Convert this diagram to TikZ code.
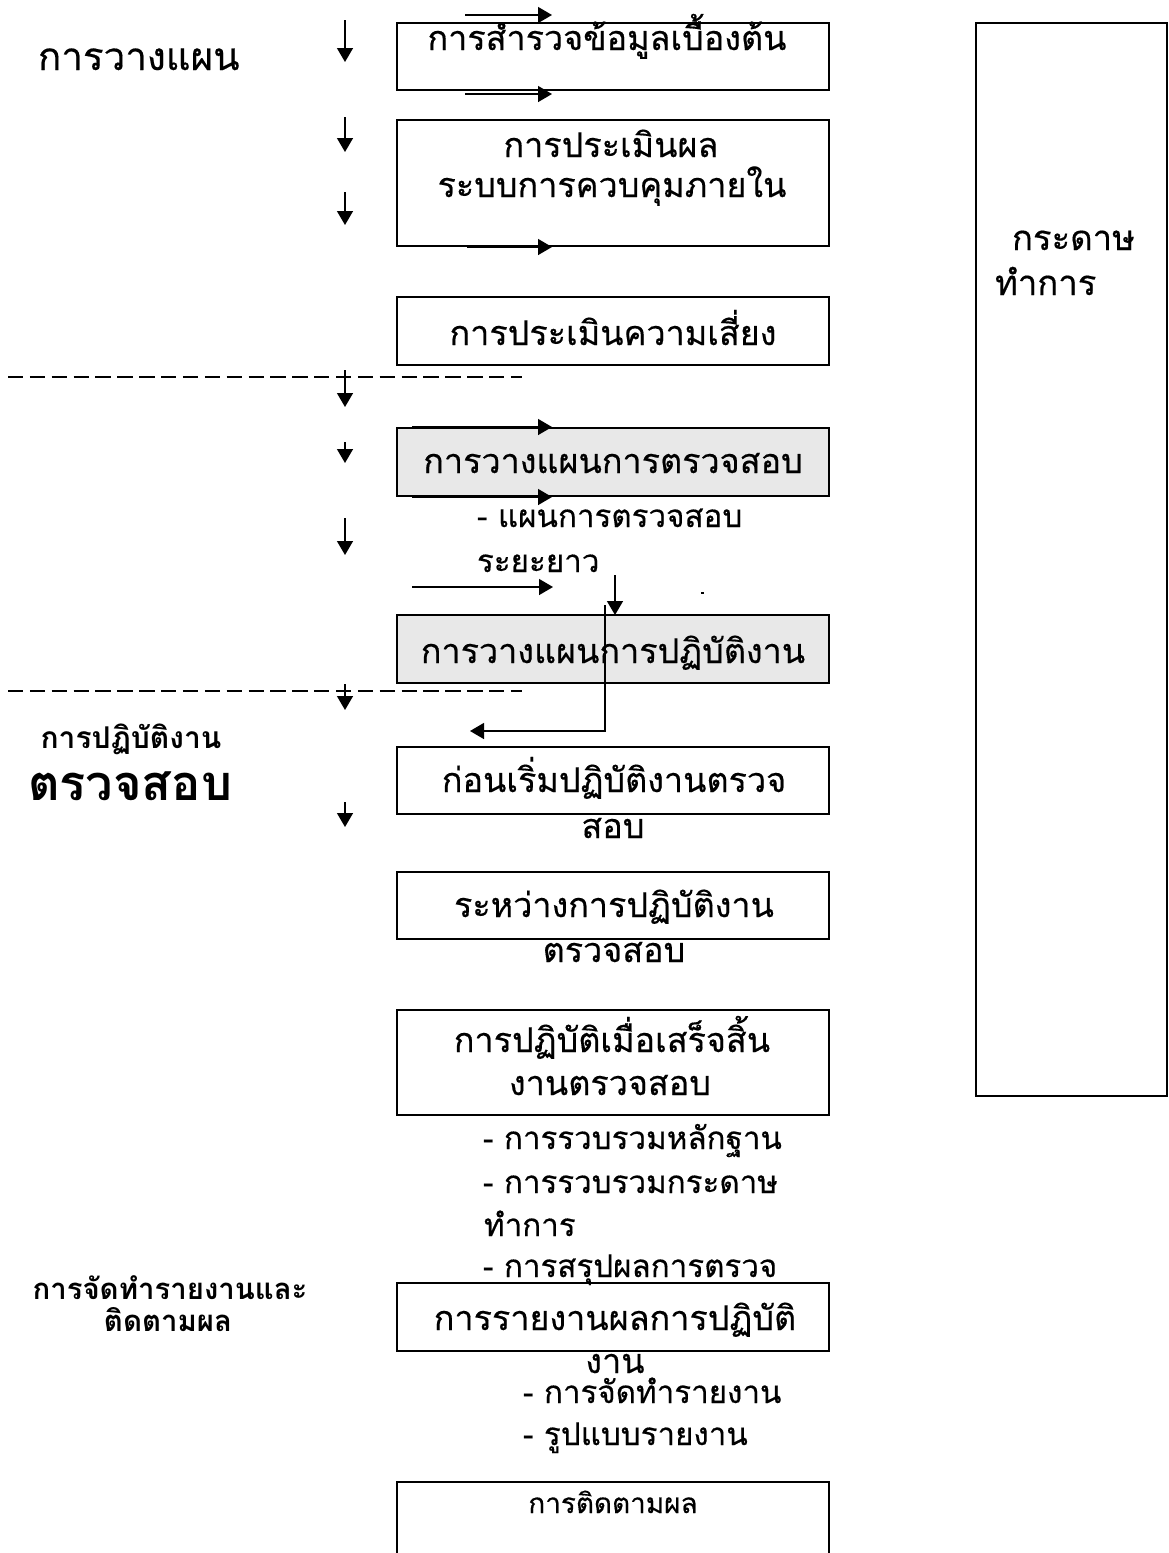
\documentclass[tikz,border=0pt]{standalone}
\usepackage{fontspec}
\newfontfamily\thai[Script=Thai, FakeBold=0.4]{Loma}
\newfontfamily\thaib[Script=Thai]{Loma Bold}
\usetikzlibrary{arrows.meta}
\tikzset{
  box/.style={draw, line width=1.5pt, inner sep=0pt, outer sep=0pt, minimum width=324pt},
  graybox/.style={box, fill=black!9},
  txt/.style={inner sep=0pt, outer sep=0pt, anchor=base, font={\thai\fontsize{25.6pt}{30pt}\selectfont}},
  ltxt/.style={txt, anchor=base west, font={\thai\fontsize{23.5pt}{28pt}\selectfont}},
  arr/.style={line width=1.1pt, -{Triangle[width=12pt,length=10.5pt]}},
  sepline/.style={line width=1.1pt, dash pattern=on 11.5pt off 4.9pt},
}
\begin{document}
\begin{tikzpicture}[x=0.75pt,y=-0.75pt]
\useasboundingbox (0,0) rectangle (1168,1553);
\clip (0,0) rectangle (1168,1553);

% boxes
\node[box, minimum height=50.25pt] (b1) at (613,56.5) {};
\node[box, minimum height=94.5pt] (b2) at (613,183) {};
\node[box, minimum height=51pt] (b3) at (613,331) {};
\node[graybox, minimum height=51pt] (b4) at (613,462) {};
\node[graybox, minimum height=51pt] (b5) at (613,649) {};
\node[box, minimum height=50.25pt] (b6) at (613,780.5) {};
\node[box, minimum height=50.25pt] (b7) at (613,905.5) {};
\node[box, minimum height=78.75pt] (b8) at (613,1062.5) {};
\node[box, minimum height=51pt] (b9) at (613,1317) {};
\node[box, minimum height=103.5pt] (b10) at (613,1551) {};
\node[box, minimum width=143.25pt, minimum height=804.75pt] (rb) at (1071.5,559.5) {};

% box texts
\node[txt] (t1) at (607,50) {การสำรวจข้อมูลเบื้องต้น};
\node[txt] (t2a) at (611,157) {การประเมินผล};
\node[txt] (t2b) at (612,197) {ระบบการควบคุมภายใน};
\node[txt] (t3) at (613,345) {การประเมินความเสี่ยง};
\node[txt] (t4) at (613,473) {การวางแผนการตรวจสอบ};
\node[txt] (t5) at (613,663) {การวางแผนการปฏิบัติงาน};
\node[txt] (t6a) at (614,792) {ก่อนเริ่มปฏิบัติงานตรวจ};
\node[txt] (t6b) at (613,838) {สอบ};
\node[txt] (t7a) at (614,917) {ระหว่างการปฏิบัติงาน};
\node[txt] (t7b) at (614,962) {ตรวจสอบ};
\node[txt] (t8a) at (612,1052) {การปฏิบัติเมื่อเสร็จสิ้น};
\node[txt] (t8b) at (610,1095) {งานตรวจสอบ};
\node[txt] (t9a) at (615,1330) {การรายงานผลการปฏิบัติ};
\node[txt] (t9b) at (615,1373) {งาน};
\node[txt, font={\thai\fontsize{20.9pt}{24pt}\selectfont}] (t10) at (613,1513) {การติดตามผล};

% list texts
\node[ltxt] (l1) at (477,527) {- แผนการตรวจสอบ};
\node[ltxt] (l2) at (477,572) {ระยะยาว};
\node[ltxt] (l3) at (483,1149) {- การรวบรวมหลักฐาน};
\node[ltxt] (l4) at (483,1193) {- การรวบรวมกระดาษ};
\node[ltxt] (l5) at (484,1236) {ทำการ};
\node[ltxt] (l6) at (483,1277) {- การสรุปผลการตรวจ};
\node[ltxt] (l7) at (523,1403) {- การจัดทำรายงาน};
\node[ltxt] (l8) at (523,1445) {- รูปแบบรายงาน};

% left labels
\node[txt, anchor=base west, font={\thai\fontsize{28.9pt}{32pt}\selectfont}] (p1) at (38,70) {การวางแผน};
\node[txt, font={\thaib\fontsize{22.5pt}{26pt}\selectfont}] (p2) at (131,748) {การปฏิบัติงาน};
\node[txt, font={\thaib\fontsize{36.6pt}{40pt}\selectfont}] (p3) at (130,800) {ตรวจสอบ};
\node[txt, font={\thaib\fontsize{22pt}{26pt}\selectfont}] (p4) at (170,1299) {การจัดทำรายงานและ};
\node[txt, font={\thaib\fontsize{22pt}{26pt}\selectfont}] (p5) at (168,1331) {ติดตามผล};

% right box text
\node[txt, anchor=base west, font={\thai\fontsize{26pt}{30pt}\selectfont}] (r1) at (1012,250) {กระดาษ};
\node[txt, anchor=base west, font={\thai\fontsize{26pt}{30pt}\selectfont}] (r2) at (995,295) {ทำการ};

% dashed separators
\draw[sepline] (8,377) coordinate (s1a) -- (522,377) coordinate (s1b);
\draw[sepline] (8,691) coordinate (s2a) -- (522,691) coordinate (s2b);

% left down arrows
\draw[arr] (345,20) coordinate (d1a) -- (345,62) coordinate (d1b);
\draw[arr] (345,117) coordinate (d2a) -- (345,152) coordinate (d2b);
\draw[arr] (345,192) coordinate (d3a) -- (345,225) coordinate (d3b);
\draw[arr] (345,370) coordinate (d4a) -- (345,407) coordinate (d4b);
\draw[arr] (345,442) coordinate (d5a) -- (345,463) coordinate (d5b);
\draw[arr] (345,518) coordinate (d6a) -- (345,555) coordinate (d6b);
\draw[arr] (345,684) coordinate (d7a) -- (345,710) coordinate (d7b);
\draw[arr] (345,802) coordinate (d8a) -- (345,827) coordinate (d8b);

% horizontal arrows
\draw[arr] (465,15) coordinate (h1a) -- (552,15) coordinate (h1b);
\draw[arr] (465,94) coordinate (h2a) -- (552,94) coordinate (h2b);
\draw[arr] (467,247) coordinate (h3a) -- (552,247) coordinate (h3b);
\draw[arr] (412,427) coordinate (h4a) -- (552,427) coordinate (h4b);
\draw[arr] (412,497) coordinate (h5a) -- (552,497) coordinate (h5b);
\draw[arr] (412,587) coordinate (h6a) -- (553,587) coordinate (h6b);

% down arrow onto box 5
\coordinate (g1) at (615,575);
\draw[arr] (g1) -- (g1 |- b5.north);
% return connector
\draw[arr] (605,605) coordinate (c1) -- (605,731) coordinate (c2) -- (470,731) coordinate (c3);
% stray mark
\draw[line width=0.8pt] (701,593) coordinate (m1) -- (704,593) coordinate (m2);
\end{tikzpicture}
\end{document}
